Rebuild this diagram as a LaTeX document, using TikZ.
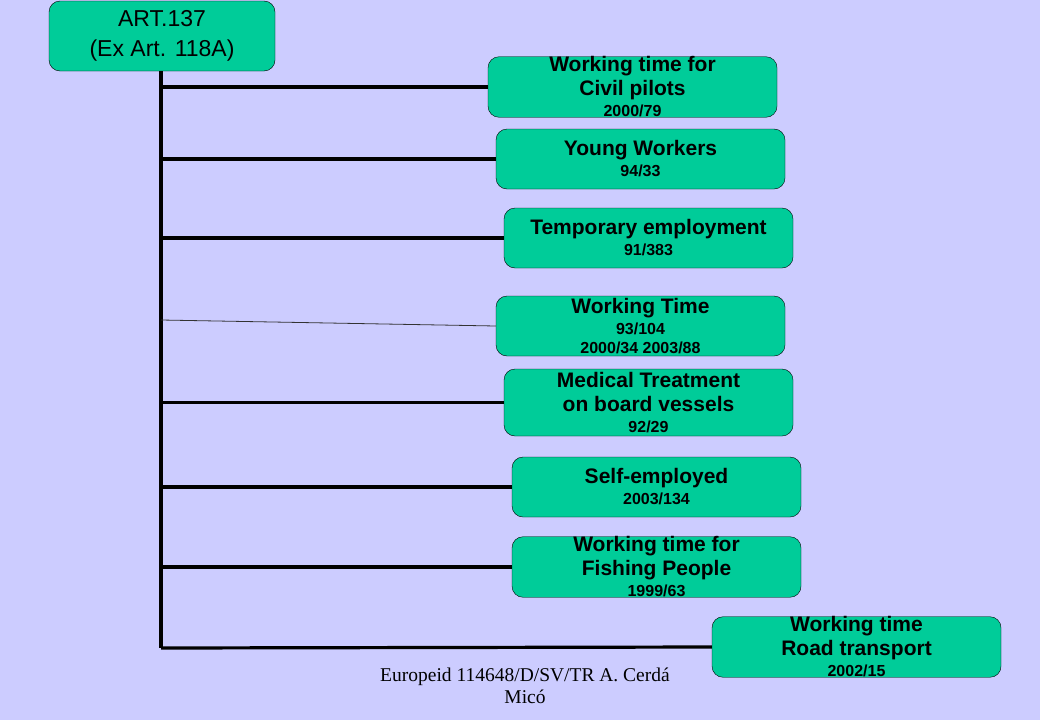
\documentclass[tikz,border=0pt]{standalone}
\usepackage{fontspec}
\setmainfont{Liberation Sans}
\newfontfamily\footfont{Liberation Serif}
\definecolor{slide}{HTML}{CCCCFF}
\definecolor{leaf}{HTML}{00CC99}
\newcommand{\dirno}[1]{{\fontsize{16}{16}\selectfont #1}}

\begin{document}
\begin{tikzpicture}[x=1pt, y=-1pt,
    box/.style={draw, rounded corners=11pt, fill=leaf, minimum width=289pt, minimum height=60pt, inner sep=0pt, align=center, font=\bfseries\fontsize{21}{24}\selectfont},
    spine/.style={line width=3.2pt}]
      \fill[slide] (0,0) rectangle (1040,720);

      \node[box, minimum width=226pt, minimum height=70pt, font=\fontsize{23}{30}\selectfont] (root) at (162,36) {ART.137\\(Ex Art. 118A)};

      \node[box] (civil) at (632.5,87) {Working time for\\Civil pilots\\[-3pt]\dirno{2000/79}};
      \node[box] (young) at (640.5,159) {Young Workers\\[-3pt]\dirno{94/33}};
      \node[box] (temp) at (648.5,238) {Temporary employment\\[-3pt]\dirno{91/383}};
      \node[box] (wtime) at (640.5,326) {Working Time\\[-3pt]\dirno{93/104}\\[-5pt]\dirno{2000/34 2003/88}};
      \node[box, minimum height=67pt] (medical) at (648.5,402.5) {Medical Treatment\\on board vessels\\[-3pt]\dirno{92/29}};
      \node[box] (self) at (656.5,487) {Self-employed\\[-3pt]\dirno{2003/134}};
      \node[box] (fish) at (656.5,567) {Working time for\\Fishing People\\[-3pt]\dirno{1999/63}};
      \node[box] (road) at (856.5,647) {Working time\\Road transport\\[-3pt]\dirno{2002/15}};

      \node[font=\footfont\fontsize{19.5}{22}\selectfont, align=center] (foot) at (525,686) {Europeid 114648/D/SV/TR A. Cerdá\\Micó};

      \coordinate (end) at (161,648);
      \coordinate (kink) at (161,320);

      \draw[spine] (root.south -| end) -- (end);
      \draw[spine] (civil.west -| end) -- (civil.west);
      \draw[spine] (young.west -| end) -- (young.west);
      \draw[spine] (temp.west -| end) -- (temp.west);
      \draw[black!80, line width=0.8pt] (kink) -- (wtime.west);
      \draw[spine] (medical.west -| end) -- (medical.west);
      \draw[spine] (self.west -| end) -- (self.west);
      \draw[spine] (fish.west -| end) -- (fish.west);
      \draw[spine] (end) -- (road.west);
    \end{tikzpicture}
\end{document}
